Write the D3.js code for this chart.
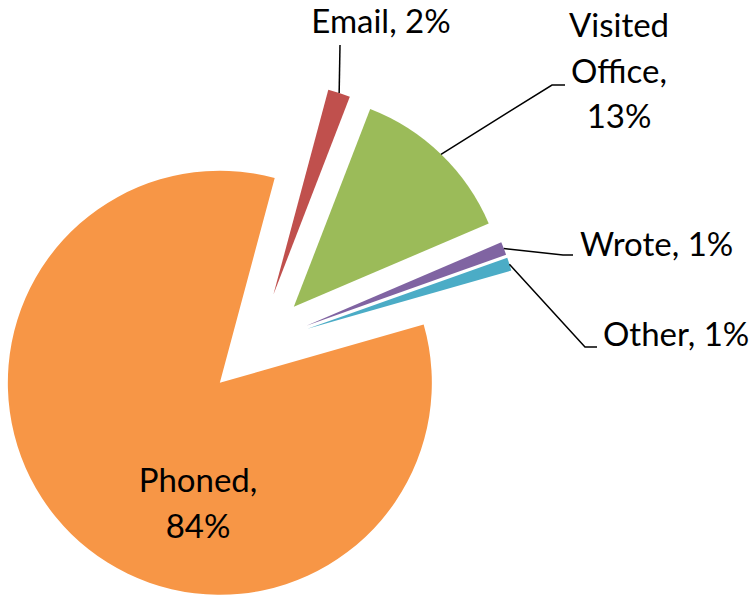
<!DOCTYPE html>
<html>
<head>
<meta charset="utf-8">
<script src="https://cdn.jsdelivr.net/npm/d3@7"></script>
<style>
  body { margin: 0; background: #fff; }
  svg { display: block; }
</style>
</head>
<body>
<div id="chart"></div>
<script>
// data
var categories = ["Email", "Visited Office", "Wrote", "Other", "Phoned"]
var shares = [1.7, 12.7, 1.0, 1.0, 83.6]
var colors = ["#C0504D", "#9BBB59", "#8064A2", "#4BACC6", "#F79646"]

// label placement (first baseline, anchor, wrap words, leader elbow points)
var labelLayout = [
  { x: 381, y: 33, anchor: "middle", wrap: false, leader: [[340, 45]] },
  { x: 619, y: 37, anchor: "middle", wrap: true, leader: [[552, 85], [565, 85]] },
  { x: 580, y: 256, anchor: "start", wrap: false, leader: [[563, 255], [573, 255]] },
  { x: 603, y: 346, anchor: "start", wrap: false, leader: [[585, 347], [597, 347]] },
  { x: 198, y: 492, anchor: "middle", wrap: true, leader: [] }
]

var width = 750, height = 599
var cx = 257, cy = 345
var radius = 212
var explode = 53
var lineGap = 45.5
var start = 15 * Math.PI / 180

var svg = d3.select("#chart").append("svg")
  .attr("width", width)
  .attr("height", height)

var total = d3.sum(shares)

var pie = d3.pie()
  .sort(null)
  .value(d => d)
  .startAngle(start)
  .endAngle(start + 2 * Math.PI)

var arcs = pie(shares)

var arc = d3.arc()
  .innerRadius(0)
  .outerRadius(radius)

var g = svg.append("g")
  .attr("transform", `translate(${cx},${cy})`)

var dir = function (d) {
  var a = (d.startAngle + d.endAngle) / 2
  return [Math.sin(a), -Math.cos(a)]
}

g.selectAll("path")
  .data(arcs)
  .join("path")
  .attr("d", arc)
  .attr("fill", (d, i) => colors[i])
  .attr("transform", d => {
    var v = dir(d)
    return `translate(${v[0] * explode},${v[1] * explode})`
  })

// leader lines
arcs.forEach(function (d, i) {
  var lay = labelLayout[i]
  if (!lay.leader.length) return
  var v = dir(d)
  var pts = [[cx + v[0] * (radius + explode), cy + v[1] * (radius + explode)]].concat(lay.leader)
  svg.append("path")
    .attr("d", d3.line()(pts))
    .attr("fill", "none")
    .attr("stroke", "#000")
    .attr("stroke-width", 1.5)
})

// labels
arcs.forEach(function (d, i) {
  var lay = labelLayout[i]
  var pct = Math.round(shares[i] / total * 100)
  var text = categories[i] + ", " + pct + "%"
  var lines = lay.wrap ? text.split(" ") : [text]
  var t = svg.append("text")
    .attr("x", lay.x)
    .attr("y", lay.y)
    .attr("text-anchor", lay.anchor)
    .attr("font-family", "Lato, 'Open Sans', sans-serif")
    .attr("font-size", 33)
    .attr("fill", "#000")
  lines.forEach(function (s, k) {
    t.append("tspan")
      .attr("x", lay.x)
      .attr("y", lay.y + k * lineGap)
      .text(s)
  })
})
</script>
</body>
</html>
